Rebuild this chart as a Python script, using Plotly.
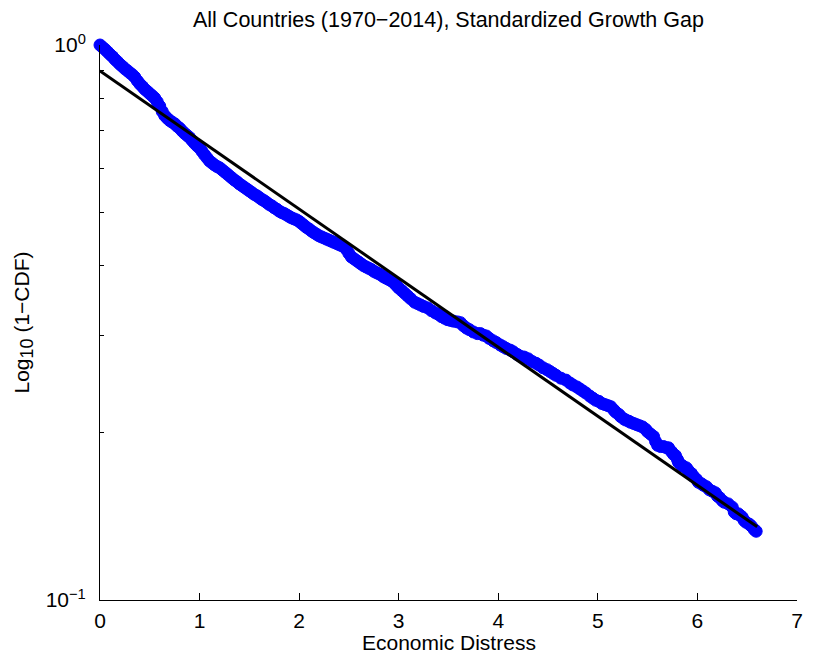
import plotly.graph_objects as go

# Empirical complementary CDF of the standardized growth gap
distress = [
    0.000, 0.025, 0.050, 0.075, 0.100, 0.125, 0.150, 0.175, 0.200, 0.225,
    0.250, 0.275, 0.300, 0.325, 0.350, 0.375, 0.400, 0.425, 0.450, 0.475,
    0.500, 0.525, 0.550, 0.575, 0.600, 0.625, 0.650, 0.675, 0.700, 0.725,
    0.750, 0.775, 0.800, 0.825, 0.850, 0.875, 0.900, 0.925, 0.950, 0.975,
    1.000, 1.025, 1.050, 1.075, 1.100, 1.125, 1.150, 1.175, 1.200, 1.225,
    1.250, 1.275, 1.300, 1.325, 1.350, 1.375, 1.400, 1.425, 1.450, 1.475,
    1.500, 1.525, 1.550, 1.575, 1.600, 1.625, 1.650, 1.675, 1.700, 1.725,
    1.750, 1.775, 1.800, 1.825, 1.850, 1.875, 1.900, 1.925, 1.950, 1.975,
    2.000, 2.025, 2.050, 2.075, 2.100, 2.125, 2.150, 2.175, 2.200, 2.225,
    2.250, 2.275, 2.300, 2.325, 2.350, 2.375, 2.400, 2.425, 2.450, 2.475,
    2.500, 2.525, 2.550, 2.575, 2.600, 2.625, 2.650, 2.675, 2.700, 2.725,
    2.750, 2.775, 2.800, 2.825, 2.850, 2.875, 2.900, 2.925, 2.950, 2.975,
    3.000, 3.030, 3.060, 3.090, 3.120, 3.160, 3.190, 3.220, 3.250, 3.290,
    3.330, 3.370, 3.400, 3.430, 3.460, 3.490, 3.520, 3.550, 3.590, 3.620,
    3.650, 3.680, 3.710, 3.750, 3.790, 3.820, 3.850, 3.880, 3.910, 3.950,
    3.980, 4.020, 4.050, 4.080, 4.120, 4.150, 4.190, 4.220, 4.260, 4.300,
    4.340, 4.380, 4.410, 4.450, 4.490, 4.520, 4.550, 4.580, 4.630, 4.680,
    4.720, 4.750, 4.790, 4.820, 4.850, 4.880, 4.920, 4.950, 4.980, 5.010,
    5.040, 5.070, 5.100, 5.130, 5.160, 5.180, 5.210, 5.230, 5.260, 5.280,
    5.310, 5.330, 5.360, 5.390, 5.420, 5.450, 5.480, 5.500, 5.530, 5.560,
    5.580, 5.600, 5.630, 5.660, 5.690, 5.710, 5.740, 5.760, 5.780, 5.800,
    5.810, 5.840, 5.860, 5.890, 5.910, 5.940, 5.960, 5.990, 6.010, 6.040,
    6.060, 6.090, 6.120, 6.150, 6.180, 6.200, 6.220, 6.250, 6.270, 6.310,
    6.350, 6.370, 6.390, 6.410, 6.430, 6.450, 6.470, 6.490, 6.520, 6.540,
    6.570, 6.590,
]
ccdf = [
    1.000, 0.991, 0.982, 0.972, 0.962, 0.953, 0.942, 0.933, 0.923, 0.915,
    0.906, 0.899, 0.891, 0.884, 0.875, 0.862, 0.851, 0.842, 0.832, 0.825,
    0.817, 0.810, 0.802, 0.790, 0.776, 0.759, 0.746, 0.738, 0.731, 0.726,
    0.721, 0.714, 0.708, 0.700, 0.693, 0.687, 0.681, 0.673, 0.665, 0.658,
    0.652, 0.643, 0.634, 0.626, 0.618, 0.613, 0.608, 0.604, 0.601, 0.596,
    0.591, 0.586, 0.581, 0.576, 0.571, 0.567, 0.562, 0.558, 0.554, 0.550,
    0.546, 0.542, 0.538, 0.535, 0.531, 0.527, 0.524, 0.520, 0.516, 0.513,
    0.509, 0.506, 0.502, 0.499, 0.497, 0.494, 0.491, 0.488, 0.486, 0.484,
    0.481, 0.477, 0.473, 0.469, 0.466, 0.462, 0.459, 0.456, 0.453, 0.451,
    0.449, 0.447, 0.445, 0.443, 0.441, 0.439, 0.437, 0.435, 0.433, 0.428,
    0.421, 0.415, 0.412, 0.409, 0.406, 0.403, 0.400, 0.398, 0.396, 0.394,
    0.391, 0.389, 0.387, 0.385, 0.382, 0.380, 0.378, 0.376, 0.373, 0.369,
    0.365, 0.361, 0.357, 0.353, 0.349, 0.344, 0.342, 0.340, 0.338, 0.336,
    0.332, 0.329, 0.327, 0.324, 0.322, 0.320, 0.319, 0.318, 0.317, 0.316,
    0.312, 0.309, 0.307, 0.304, 0.302, 0.302, 0.300, 0.299, 0.296, 0.293,
    0.291, 0.288, 0.286, 0.284, 0.282, 0.280, 0.277, 0.275, 0.274, 0.272,
    0.269, 0.267, 0.265, 0.262, 0.260, 0.258, 0.256, 0.254, 0.251, 0.249,
    0.246, 0.244, 0.242, 0.240, 0.238, 0.236, 0.233, 0.231, 0.229, 0.228,
    0.226, 0.225, 0.224, 0.223, 0.220, 0.218, 0.216, 0.214, 0.212, 0.211,
    0.210, 0.209, 0.208, 0.207, 0.206, 0.205, 0.203, 0.201, 0.199, 0.197,
    0.193, 0.190, 0.189, 0.189, 0.188, 0.188, 0.185, 0.183, 0.182, 0.179,
    0.177, 0.175, 0.174, 0.173, 0.171, 0.169, 0.167, 0.165, 0.163, 0.162,
    0.161, 0.160, 0.158, 0.157, 0.156, 0.154, 0.153, 0.151, 0.150, 0.149,
    0.147, 0.144, 0.143, 0.143, 0.142, 0.141, 0.139, 0.138, 0.137, 0.136,
    0.134, 0.133,
]

# Log-linear fit through the tail
fit_x = [0.0, 6.6]
fit_y = [0.898, 0.1355]

x_ticks = [0, 1, 2, 3, 4, 5, 6, 7]
y_ticks = [0.1, 1.0]
y_tick_text = ["10<sup>−1</sup>", "10<sup>0</sup>"]
y_minor = [0.2, 0.3, 0.4, 0.5, 0.6, 0.7, 0.8, 0.9]

FONT = "Liberation Sans, Arial, Helvetica, sans-serif"
FS = 21

fig = go.Figure()
fig.add_trace(go.Scatter(
    x=distress, y=ccdf, mode="markers",
    marker=dict(symbol="circle", size=12, color="#0000ff",
                line=dict(color="#0000ff", width=1)),
    showlegend=False, cliponaxis=False,
))
fig.add_trace(go.Scatter(
    x=fit_x, y=fit_y, mode="lines",
    line=dict(color="#000000", width=3),
    showlegend=False,
))

fig.update_layout(
    width=813, height=662,
    margin=dict(l=100, r=10, t=45, b=62),
    paper_bgcolor="white", plot_bgcolor="white",
    font=dict(family=FONT, size=FS, color="black"),
    xaxis=dict(
        range=[0, 7], tickvals=x_ticks, ticks="inside", ticklen=7,
        tickwidth=1, tickcolor="black", showline=True, linecolor="black",
        linewidth=1, showgrid=False, zeroline=False, mirror=False,
        tickfont=dict(size=FS), ticklabelstandoff=2,
    ),
    yaxis=dict(
        type="log", range=[-1, 0], tickvals=y_ticks, ticktext=y_tick_text,
        ticks="inside", ticklen=7, tickwidth=1, tickcolor="black",
        showline=True, linecolor="black", linewidth=1, showgrid=False,
        zeroline=False, mirror=False, tickfont=dict(size=FS),
        ticklabelstandoff=9,
        minor=dict(tickvals=y_minor, ticks="inside", ticklen=4,
                   tickcolor="black", tickwidth=1, showgrid=False),
    ),
    annotations=[
        dict(text="All Countries (1970−2014), Standardized Growth Gap",
             xref="paper", yref="paper", x=0.5, y=1, xanchor="center",
             yanchor="middle", yshift=25, showarrow=False,
             font=dict(size=21.5)),
        dict(text="Economic Distress", xref="paper", yref="paper",
             x=0.5, y=0, xanchor="center", yanchor="middle", yshift=-42,
             showarrow=False, font=dict(size=FS)),
        dict(text='Log<sub><span style="font-size:18px">10</span></sub> (1−CDF)',
             xref="paper", yref="paper",
             x=0, y=0.5, xanchor="center", yanchor="middle", xshift=-77,
             textangle=-90, showarrow=False, font=dict(size=FS)),
    ],
)

fig.write_html("out.html")
